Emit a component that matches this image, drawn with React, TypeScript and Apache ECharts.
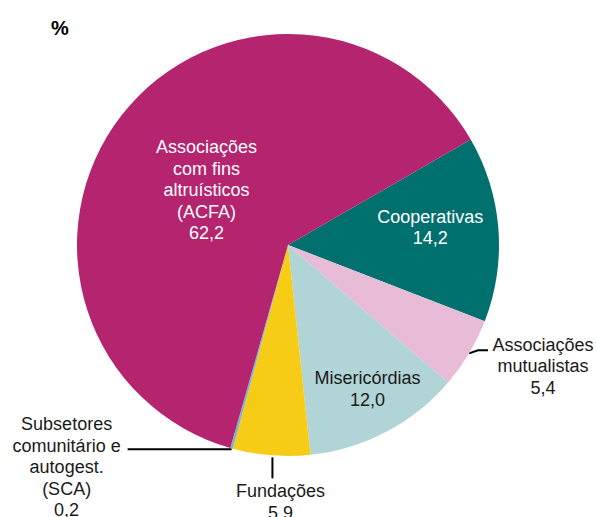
import React, { useEffect, useRef } from "react";
import * as echarts from "echarts";

const categories = [
  "Cooperativas",
  "Associações mutualistas",
  "Misericórdias",
  "Fundações",
  "Subsetores comunitário e autogest. (SCA)",
  "Associações com fins altruísticos (ACFA)",
];
const labelTexts = [
  "Cooperativas",
  "Associações\nmutualistas",
  "Misericórdias",
  "Fundações",
  "Subsetores\ncomunitário e\nautogest.\n(SCA)",
  "Associações\ncom fins\naltruísticos\n(ACFA)",
];
const values = [14.2, 5.4, 12.0, 5.9, 0.2, 62.2];
const colors = ["#00706E", "#E8BCD6", "#B1D5D6", "#F6CC17", "#7CB5D2", "#B5246F"];
const textColors = ["#ffffff", "#1a1a1a", "#1a1a1a", "#1a1a1a", "#1a1a1a", "#ffffff"];
const insideLabel = [true, false, true, false, false, true];
const unitLabel = "%";

const FONT = "'Liberation Sans', Arial, sans-serif";

export default function App() {
  const ref = useRef<HTMLDivElement>(null);
  useEffect(() => {
    if (!ref.current) return;
    const chart = echarts.init(ref.current, null, { renderer: "svg" });
    const fmt = (v: number) => v.toFixed(1).replace(".", ",");
    const data = categories.map((name, i) => ({
      name,
      value: values[i],
      itemStyle: { color: colors[i] },
      label: {
        show: true,
        position: insideLabel[i] ? "inside" : "outside",
        formatter: () => labelTexts[i] + "\n" + fmt(values[i]),
        color: textColors[i],
        fontSize: 18,
        lineHeight: 21.5,
        fontFamily: FONT,
        align: "center",
      },
      labelLine: { show: !insideLabel[i], length: 10, length2: 10, lineStyle: { color: "#000", width: 2 } },
    }));
    chart.setOption({
      animation: false,
      title: {
        text: unitLabel,
        left: 46,
        top: 13,
        textStyle: { fontSize: 20, fontWeight: "bold", color: "#000", fontFamily: FONT },
      },
      series: [
        {
          type: "pie",
          center: [288, 245],
          radius: [0, 211],
          startAngle: 30,
          clockwise: true,
          avoidLabelOverlap: false,
          itemStyle: { borderWidth: 0 },
          emphasis: { disabled: true },
          data,
          labelLayout: (p: any) => {
            const i = p.dataIndex;
            const pts = p.labelLinePoints;
            if (i === 0) return { dx: 34, dy: -9 };
            if (i === 2) return { dx: 29, dy: 48 };
            if (i === 5) return { dx: 4, dy: 12 };
            if (!pts) return {};
            const [x0, y0] = pts[0];
            if (i === 1) {
              return {
                x: x0 + 74,
                y: y0 + 13,
                align: "center",
                verticalAlign: "middle",
                labelLinePoints: [[x0, y0], [x0 + 9, y0 - 3], [x0 + 19, y0 - 3]],
              };
            }
            if (i === 3) {
              return {
                x: x0 + 9,
                y: y0 + 25,
                align: "center",
                verticalAlign: "top",
                labelLinePoints: [[x0 + 1, y0 + 2], [x0 + 1, y0 + 12], [x0 + 1, y0 + 23]],
              };
            }
            if (i === 4) {
              return {
                x: x0 - 165,
                y: y0 + 19,
                align: "center",
                verticalAlign: "middle",
                labelLinePoints: [[x0, y0 + 1], [x0 - 50, y0 + 1], [x0 - 104, y0 + 1]],
              };
            }
            return {};
          },
        },
      ],
    });
    return () => chart.dispose();
  }, []);
  return <div ref={ref} style={{ position: "absolute", left: 0, top: 0, width: 597, height: 517 }} />;
}
